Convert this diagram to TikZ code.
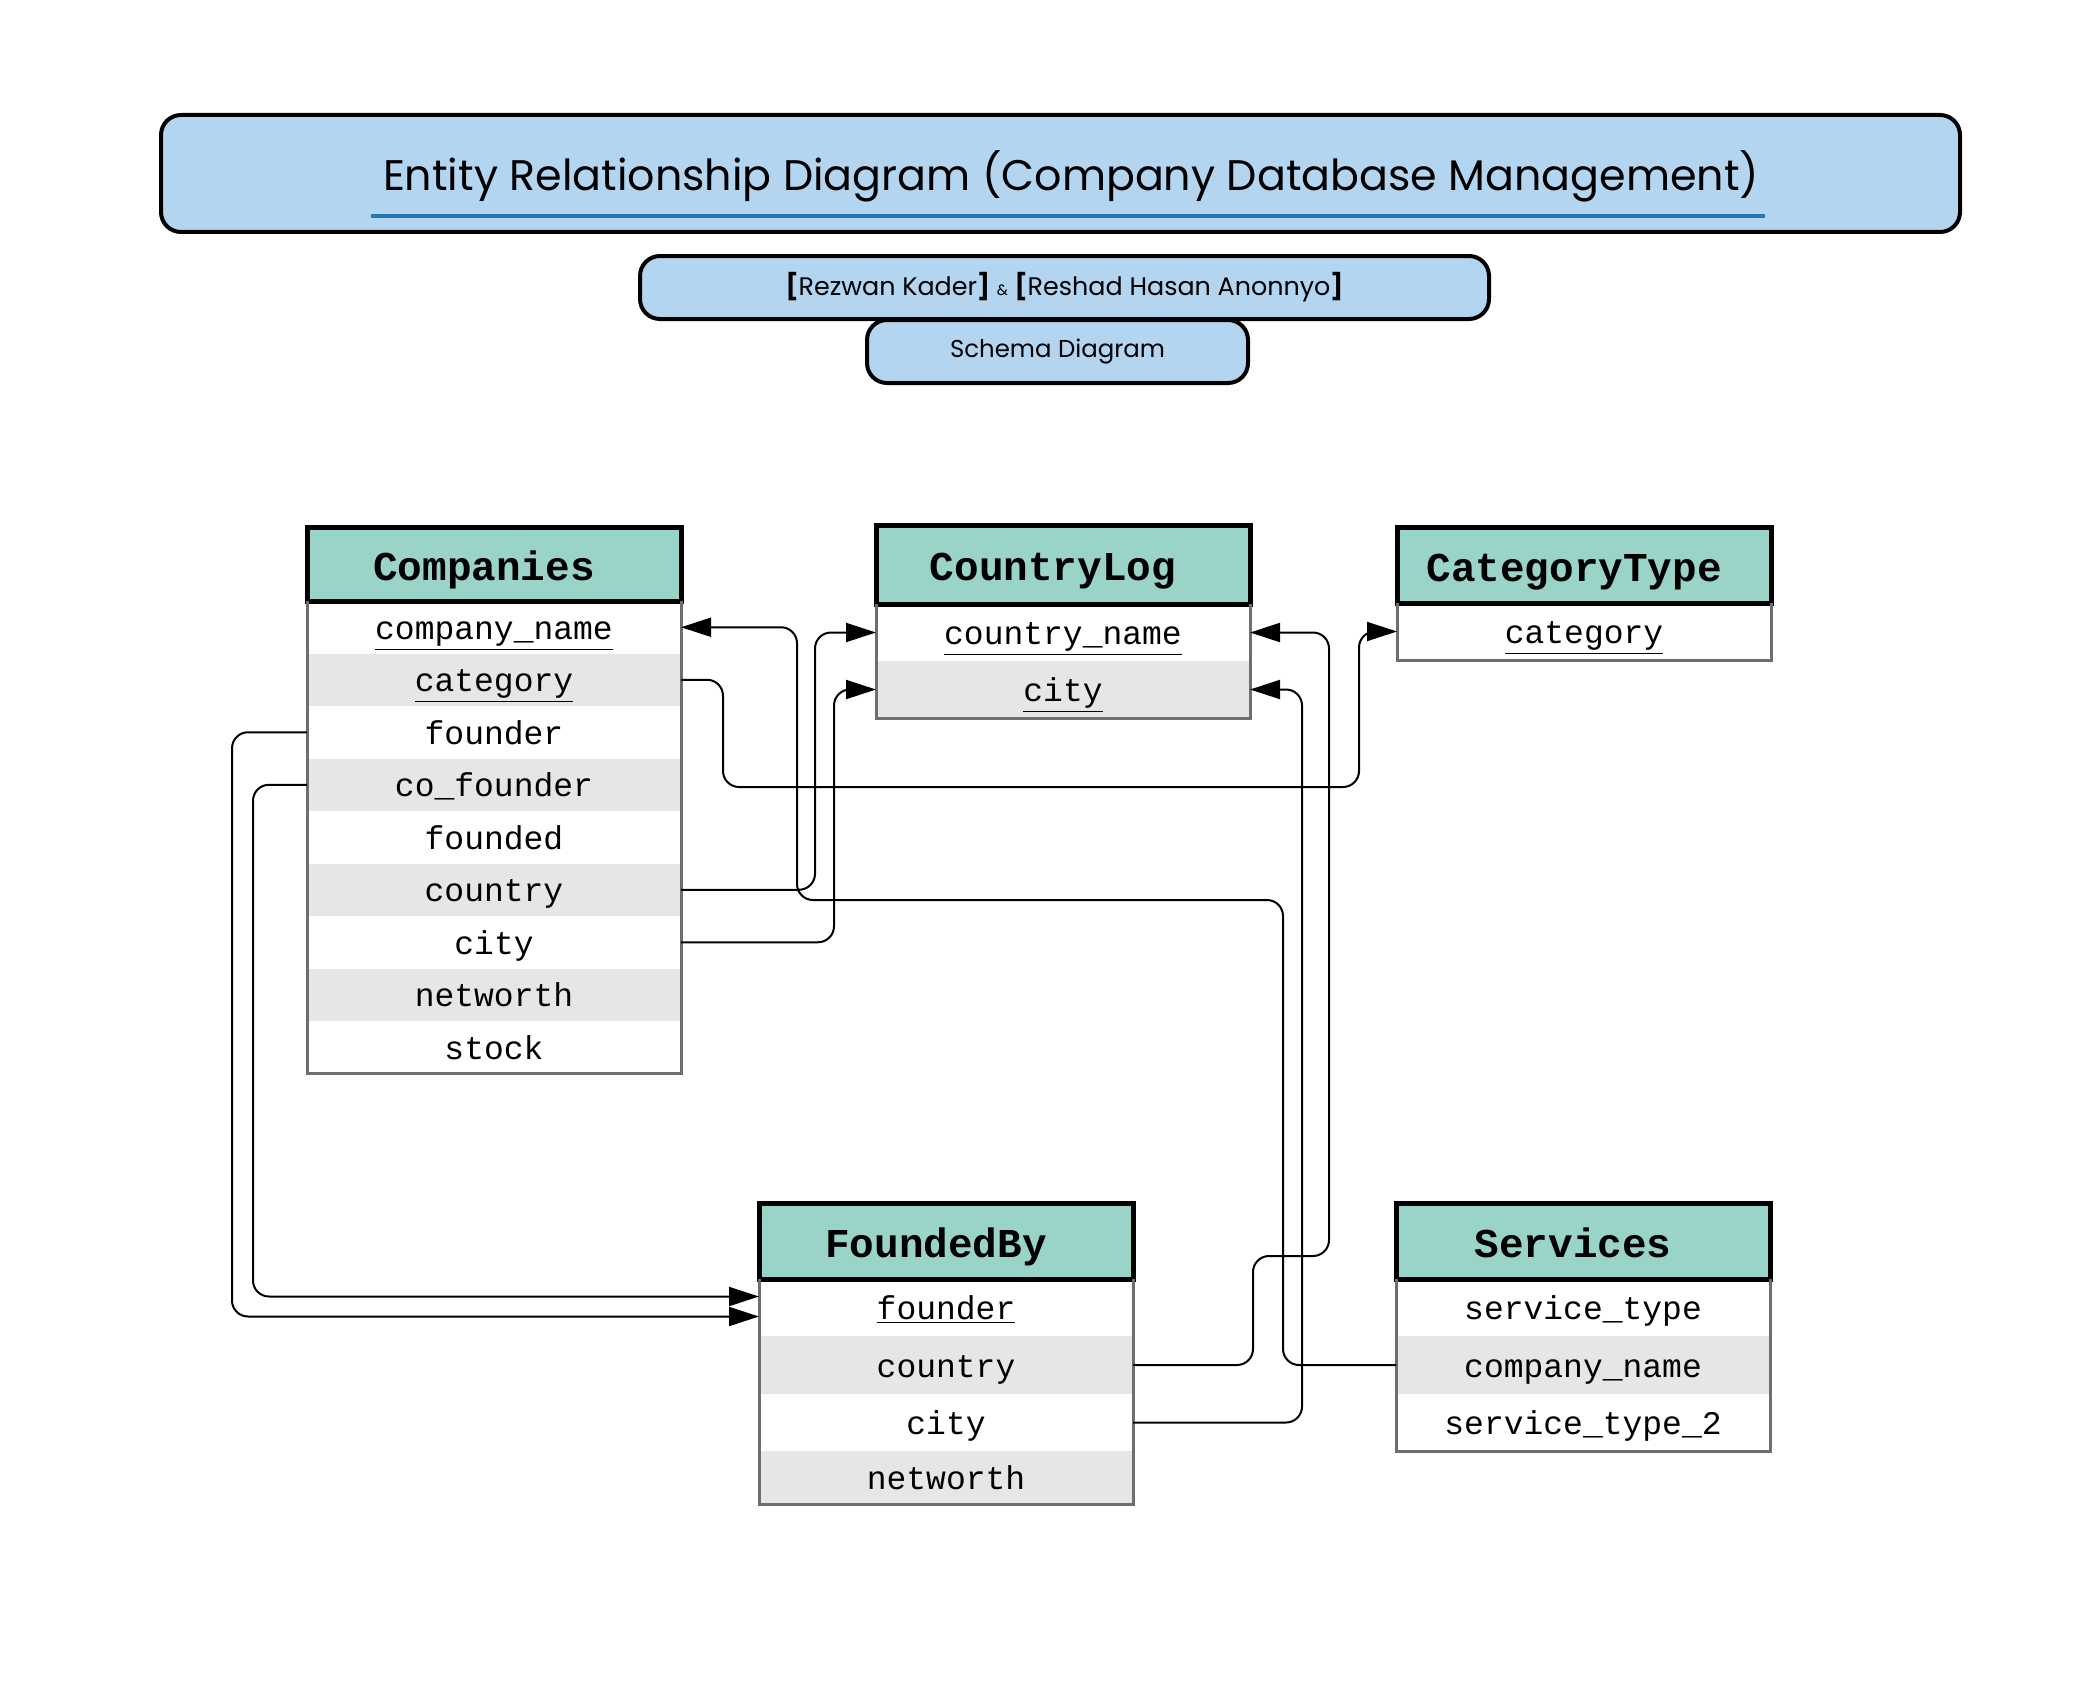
\documentclass[tikz,border=0pt]{standalone}
\usepackage{fontspec}
\usetikzlibrary{positioning,arrows.meta}
\newfontfamily\titlefont{Poppins}
\newfontfamily\rowfont{Liberation Mono}
\definecolor{headteal}{HTML}{9AD4C8}
\definecolor{rowgray}{HTML}{E6E6E6}
\definecolor{bordergray}{HTML}{6E6E6E}
\definecolor{titleblue}{HTML}{B3D5EF}
\definecolor{lineblue}{HTML}{1F78B4}

\begin{document}
\begin{tikzpicture}[%
        x = 0.5pt, y = -0.5pt,
        banner/.style = {draw=black, line width=2pt, fill=titleblue, rounded corners=10pt, inner sep=0pt},
        tabhead/.style = {draw=black, line width=2.5pt, fill=headteal, minimum width=187pt, minimum height=38pt,
            inner sep=0pt, outer sep=0pt, anchor=north west, text height=16.3pt, text depth=0pt,
            execute at end node={\hspace{10pt}}, font=\fontsize{20.5pt}{24pt}\rowfont\bfseries},
        attr/.style = {minimum width=187pt, minimum height=#1, inner sep=0pt, outer sep=0pt,
            text height=12pt, text depth=0pt, font=\fontsize{16.5pt}{20pt}\rowfont},
        attr/.default = 28.5pt,
        attrg/.style = {attr=#1, fill=rowgray},
        attrg/.default = 28.5pt,
        tabbody/.style = {draw=bordergray, line width=1.5pt},
        fk/.style = {draw=black, line width=1pt, rounded corners=8pt, -{Triangle[length=15pt, width=9.5pt]}}
    ]
      \useasboundingbox (0,0) rectangle (2091,1680);

      \node[banner, minimum width=899.5pt, minimum height=58.5pt, text depth=2.5pt] (title) at (1060.5,173.5)
          {\titlefont\fontsize{21.4pt}{25pt}\selectfont\hspace{10.7pt}Entity Relationship Diagram (Company Database Management)};
      \draw[lineblue, line width=2pt] (371,216) -- (1765,216);
      \node[banner, minimum width=424.5pt, minimum height=31.5pt] (authors) at (1064.5,287.5)
          {\titlefont\fontsize{12.7pt}{15pt}\selectfont\textbf{[}Rezwan Kader\textbf{]} {\fontsize{7.5pt}{9pt}\selectfont\&} \textbf{[}Reshad Hasan Anonnyo\textbf{]}};
      \node[banner, minimum width=190.5pt, minimum height=31.5pt] (schema) at (1057.5,351.5)
          {\titlefont\fontsize{12.2pt}{15pt}\selectfont Schema Diagram};

      \node[tabhead, minimum height=37pt] (cmp-h) at (307,527) {Companies};
      \node[attr=26.25pt, below=0pt of cmp-h] (cmp-1) {\underline{company\_name}};
      \node[attrg=26.25pt, below=0pt of cmp-1] (cmp-2) {\underline{category}};
      \node[attr=26.25pt, below=0pt of cmp-2] (cmp-3) {founder};
      \node[attrg=26.25pt, below=0pt of cmp-3] (cmp-4) {co\_founder};
      \node[attr=26.25pt, below=0pt of cmp-4] (cmp-5) {founded};
      \node[attrg=26.25pt, below=0pt of cmp-5] (cmp-6) {country};
      \node[attr=26.25pt, below=0pt of cmp-6] (cmp-7) {city};
      \node[attrg=26.25pt, below=0pt of cmp-7] (cmp-8) {networth};
      \node[attr=26.25pt, below=0pt of cmp-8] (cmp-9) {stock};
      \draw[tabbody] (cmp-1.north west) -- (cmp-9.south west) -- (cmp-9.south east) -- (cmp-1.north east);

      \node[tabhead, minimum height=39.5pt] (cl-h) at (876,525) {CountryLog};
      \node[attr, below=0pt of cl-h] (cl-1) {\underline{country\_name}};
      \node[attrg, below=0pt of cl-1] (cl-2) {\underline{city}};
      \draw[tabbody] (cl-1.north west) -- (cl-2.south west) -- (cl-2.south east) -- (cl-1.north east);

      \node[tabhead] (cat-h) at (1397,527) {CategoryType};
      \node[attr, below=0pt of cat-h] (cat-1) {\underline{category}};
      \draw[tabbody] (cat-1.north west) -- (cat-1.south west) -- (cat-1.south east) -- (cat-1.north east);

      \node[tabhead] (fb-h) at (759,1203) {FoundedBy};
      \node[attr, below=0pt of fb-h] (fb-1) {\underline{founder}};
      \node[attrg=29pt, below=0pt of fb-1] (fb-2) {country};
      \node[attr, below=0pt of fb-2] (fb-3) {city};
      \node[attrg=26.5pt, below=0pt of fb-3] (fb-4) {networth};
      \draw[tabbody] (fb-1.north west) -- (fb-4.south west) -- (fb-4.south east) -- (fb-1.north east);

      \node[tabhead] (svc-h) at (1396,1203) {Services};
      \node[attr, below=0pt of svc-h] (svc-1) {service\_type};
      \node[attrg=29pt, below=0pt of svc-1] (svc-2) {company\_name};
      \node[attr, below=0pt of svc-2] (svc-3) {service\_type\_2};
      \draw[tabbody] (svc-1.north west) -- (svc-3.south west) -- (svc-3.south east) -- (svc-1.north east);

      \draw[fk] (svc-2.west) -- ++(-113,0) |- (797,900) |- (cmp-1.east);
      \draw[fk] (cmp-2.east) -- ++(42,0) |- (1359,787) |- (cat-1.west);
      \draw[fk] (cmp-6.east) -- ++(134,0) |- (cl-1.west);
      \draw[fk] (cmp-7.east) -- ++(153,0) |- (cl-2.west);
      \draw[fk] (fb-2.east) -- ++(120,0) |- (1329,1256) |- (cl-1.east);
      \draw[fk] (fb-3.east) -- ++(169,0) |- (cl-2.east);
      \draw[fk] (cmp-3.west) -- ++(-75,0) |- ([yshift=-4.5pt]fb-1.west);
      \draw[fk] (cmp-4.west) -- ++(-54,0) |- ([yshift=5.5pt]fb-1.west);
    \end{tikzpicture}
\end{document}
